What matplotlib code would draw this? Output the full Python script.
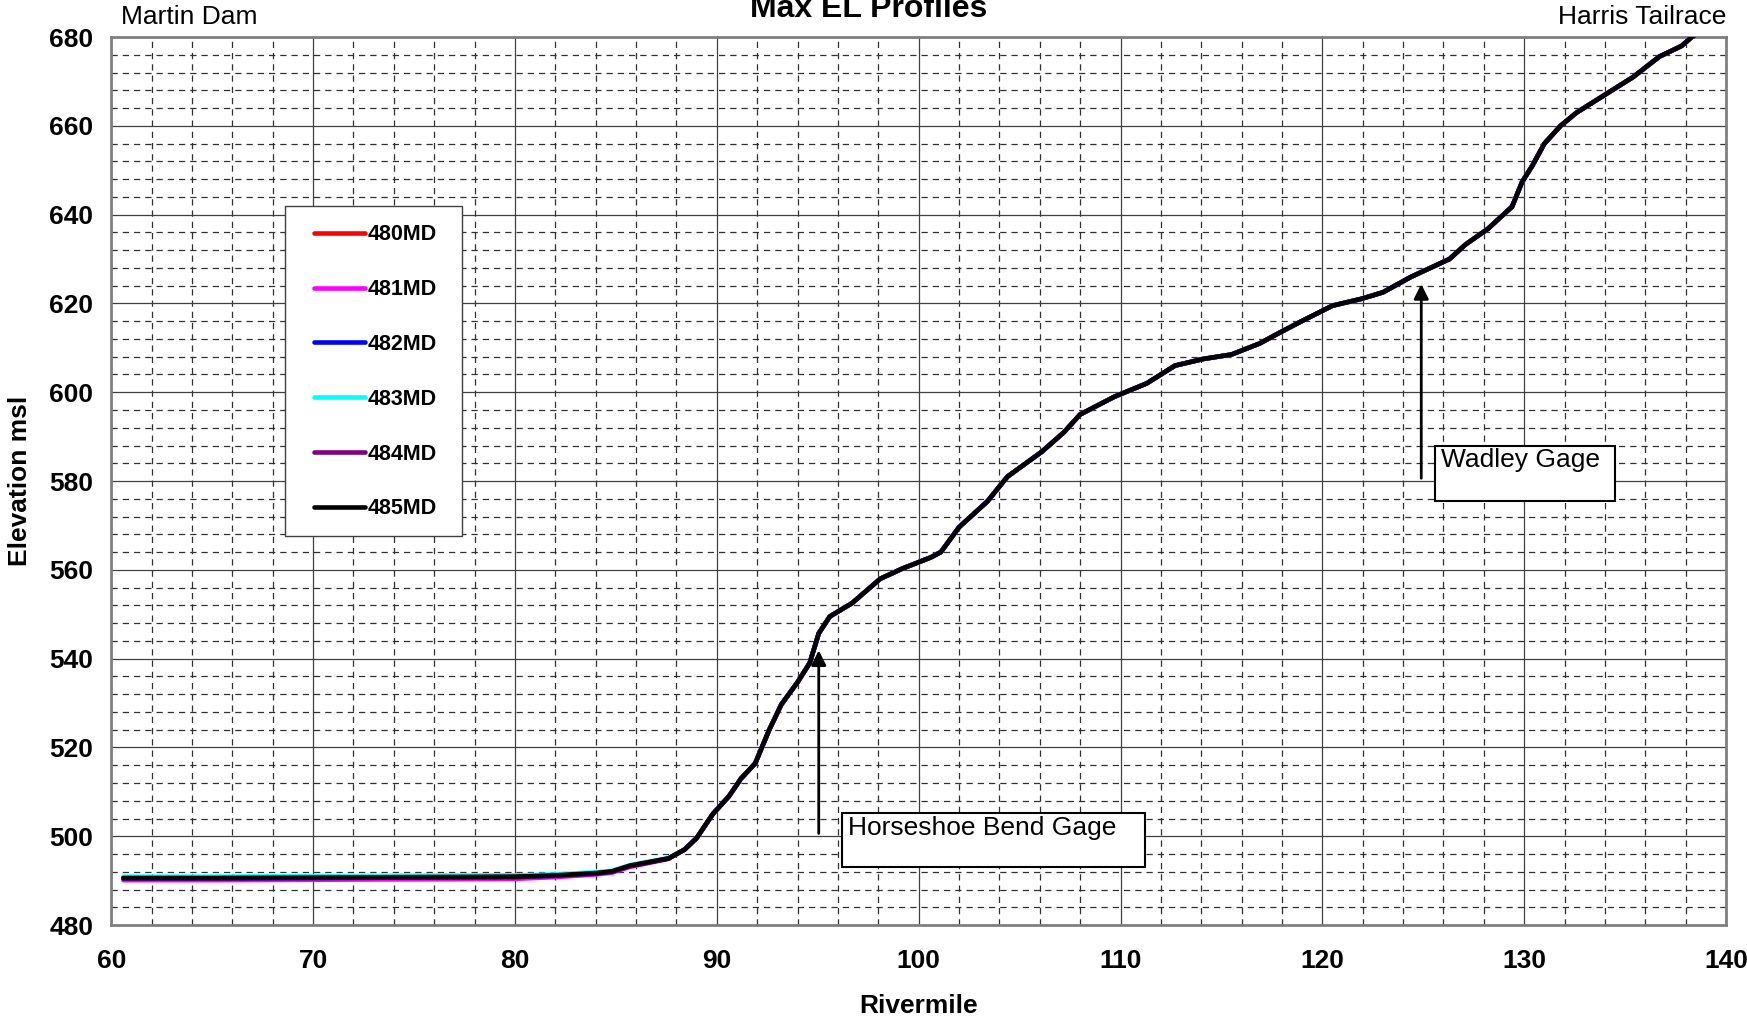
import numpy as np
import matplotlib
matplotlib.use('Agg')
import matplotlib.pyplot as plt
from matplotlib.patches import Rectangle

plt.rcParams['font.family'] = ['Liberation Sans', 'DejaVu Sans']

# River mile stations (shared by all runs)
rivermile = [60.6, 65, 70, 75, 80, 82, 84, 84.8, 85.7, 87.6, 88.4, 89.0, 89.8, 90.6,
             91.2, 91.9, 92.6, 93.2, 94.0, 94.6, 95.05, 95.6, 96.7, 98.1, 99.2,
             100.6, 101.1, 102.0, 103.4, 104.4, 106.1, 107.2, 108.0, 109.7, 111.3,
             112.7, 114.1, 115.5, 116.9, 118.0, 119.1, 120.5, 121.9, 123.0, 124.4,
             126.3, 127.1, 128.2, 128.8, 129.4, 129.9, 130.4, 131.0, 131.8, 132.6,
             134.0, 135.4, 136.7, 137.8, 138.3, 139.0]

# Upper reach is the same for every run
upper_el = [499.6, 505.0, 509.0, 513.0, 516.4, 524.0, 529.7, 534.7, 539.0, 545.7,
            549.5, 552.5, 558.0, 560.3, 562.8, 564.0, 569.6, 575.4, 581.0, 586.6,
            591.0, 595.0, 599.0, 602.0, 606.0, 607.5, 608.5, 611.0, 613.7, 616.3,
            619.5, 621.0, 622.5, 626.0, 630.0, 633.3, 636.8, 639.3, 641.8, 647.4,
            651.0, 656.0, 660.0, 663.0, 667.0, 671.0, 675.6, 678.0, 680.0, 682.0]

# Lower reach (Martin Dam pool) differs slightly between runs
lower_480 = [490.6, 490.6, 490.7, 490.8, 490.9, 491.2, 491.7, 492.0, 493.3, 495.0, 497.0]
lower_481 = [490.1, 490.1, 490.2, 490.3, 490.4, 490.8, 491.4, 491.8, 493.1, 494.9, 497.0]
lower_482 = [490.5, 490.5, 490.6, 490.7, 490.8, 491.1, 491.6, 492.0, 493.3, 495.0, 497.0]
lower_483 = [490.9, 490.9, 491.0, 491.1, 491.2, 491.4, 491.9, 492.2, 493.5, 495.1, 497.0]
lower_484 = [490.5, 490.5, 490.6, 490.7, 490.8, 491.1, 491.6, 492.0, 493.3, 495.0, 497.0]
lower_485 = [490.6, 490.6, 490.7, 490.8, 490.9, 491.2, 491.7, 492.1, 493.4, 495.0, 497.0]

runs = ["480MD", "481MD", "482MD", "483MD", "484MD", "485MD"]
lowers = [lower_480, lower_481, lower_482, lower_483, lower_484, lower_485]
colors = ["#ff0000", "#ff00ff", "#0000ff", "#00ffff", "#800080", "#000000"]

gages = ["Horseshoe Bend Gage", "Wadley Gage"]
gage_rm = [95.05, 124.9]

fig = plt.figure(figsize=(17.47, 10.29), dpi=100)
ax = fig.add_axes([0.0637, 0.101, 0.9243, 0.863])

for name, low, c in zip(runs, lowers, colors):
    ax.plot(rivermile, low + upper_el, color=c, lw=3.3, label=name,
            solid_capstyle='round', solid_joinstyle='round', zorder=3)

ax.set_xlim(60, 140)
ax.set_ylim(480, 680)
ax.set_xticks(np.arange(60, 141, 10))
ax.set_yticks(np.arange(480, 681, 20))
ax.set_xticks(np.arange(60, 141, 2), minor=True)
ax.set_yticks(np.arange(480, 681, 4), minor=True)
ax.grid(True, which='major', color='#404040', lw=0.9, ls='-')
ax.grid(True, which='minor', color='#303030', lw=0.9, ls=(0, (5, 4)))
ax.set_axisbelow(True)
ax.tick_params(which='both', length=0, labelsize=19)
ax.tick_params(axis='x', pad=17)
ax.tick_params(axis='y', pad=13)
for lab in ax.get_xticklabels() + ax.get_yticklabels():
    lab.set_fontweight('bold')
for sp in ax.spines.values():
    sp.set_color('#808080')
    sp.set_linewidth(2)

ax.set_xlabel('Rivermile', fontsize=19, fontweight='bold', labelpad=15)
ax.set_ylabel('Elevation msl', fontsize=19, fontweight='bold', labelpad=12)

fig.text(0.497, 0.983, 'Max EL Profiles', ha='center', va='baseline',
         fontsize=23, fontweight='bold')
ax.text(0.006, 1.009, 'Martin Dam', transform=ax.transAxes, ha='left', va='bottom',
        fontsize=19)
ax.text(1.0, 1.009, 'Harris Tailrace', transform=ax.transAxes, ha='right',
        va='bottom', fontsize=19)

# gage annotations
arrow_from = [500, 580]
arrow_to = [542.5, 625]
boxes = [(96.2, 493.0, 15.0, 12.2), (125.6, 575.6, 8.9, 12.4)]
for name, rm, y0, y1, (bx, by, bw, bh) in zip(gages, gage_rm, arrow_from, arrow_to, boxes):
    ax.annotate('', xy=(rm, y1), xytext=(rm, y0),
                arrowprops=dict(arrowstyle='-|>', color='black', lw=2,
                                mutation_scale=22), zorder=4)
    ax.add_patch(Rectangle((bx, by), bw, bh, facecolor='white', edgecolor='black',
                           lw=1.5, zorder=5))
    ax.text(bx + 0.3, by + bh - 0.6, name, ha='left', va='top', fontsize=19, zorder=6)

# legend: frame drawn separately so the padding matches the original box
ax.add_patch(Rectangle((0.1077, 0.4382), 0.1097, 0.3714, transform=ax.transAxes,
                       facecolor='white', edgecolor='#404040', lw=1, zorder=6))
leg = ax.legend(loc='upper left', bbox_to_anchor=(0.1257, 0.789),
                prop={'weight': 'bold', 'size': 15.5}, labelspacing=1.57,
                handlelength=2.35, handletextpad=0.15, borderpad=0,
                borderaxespad=0, frameon=False)
leg.set_zorder(7)

fig.savefig('out.png', dpi=100)
